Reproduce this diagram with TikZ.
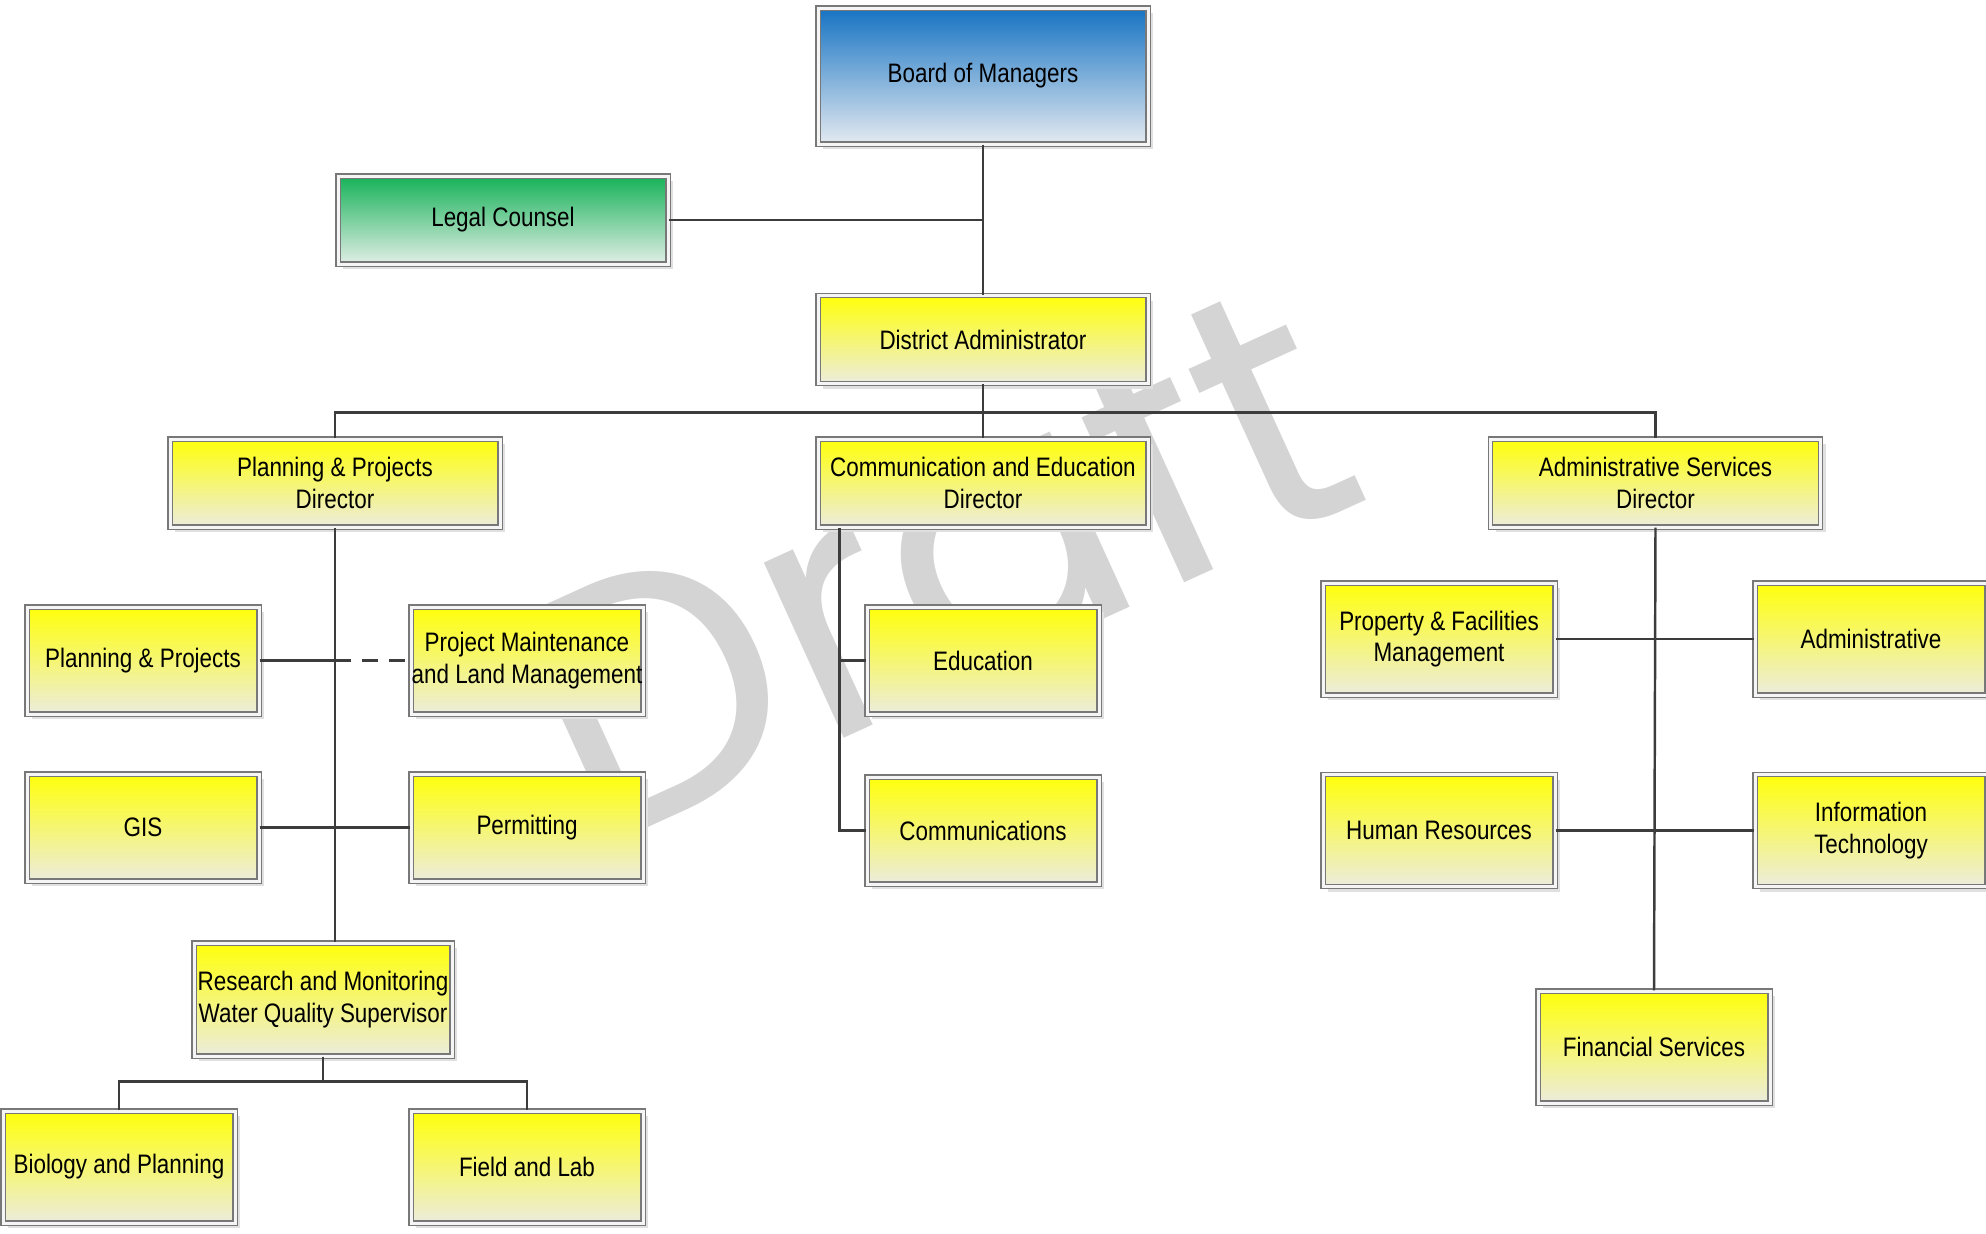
\documentclass[tikz,border=0pt]{standalone}
\usepackage{fontspec}
\setmainfont{Liberation Sans}[FakeStretch=0.84]
\newfontfamily\draftfont{Poppins}
\usetikzlibrary{shadows}

\definecolor{linegray}{RGB}{60,60,60}
\definecolor{boxedge}{RGB}{120,120,120}
\definecolor{ytop}{RGB}{255,255,10}
\definecolor{ymid}{RGB}{245,245,125}
\definecolor{ybot}{RGB}{236,236,222}
\definecolor{btop}{RGB}{22,115,195}
\definecolor{bmid}{RGB}{105,165,215}
\definecolor{bbot}{RGB}{228,234,240}
\definecolor{gtop}{RGB}{22,178,88}
\definecolor{gmid}{RGB}{110,200,145}
\definecolor{gbot}{RGB}{225,238,230}

\tikzset{
  unit/.style={rectangle, draw=boxedge, line width=0.35pt, double=black!4,
    double distance=0.3mm, inner sep=0pt, align=center,
    font=\fontsize{7.6}{9}\selectfont,
    top color=ytop, middle color=ymid, bottom color=ybot,
    drop shadow={shadow xshift=0.5mm, shadow yshift=-0.5mm, fill=black!12, opacity=1}},
  wide/.style={minimum width=33mm, minimum height=8.8mm},
  small/.style={minimum width=23.2mm, minimum height=10.7mm},
  tall/.style={minimum width=23.2mm, minimum height=11.2mm},
  board/.style={top color=btop, middle color=bmid, bottom color=bbot},
  legal/.style={top color=gtop, middle color=gmid, bottom color=gbot},
  link/.style={draw=linegray, line width=0.7pt},
  watermark/.style={text=black!17, font=\draftfont\fontsize{100}{100}\selectfont, rotate=24.5}
}

\begin{document}
\begin{tikzpicture}[x=0.1mm, y=-0.1mm, line cap=butt, line join=miter]
  \useasboundingbox (0,0) rectangle (1986,1233);

  % Watermark
  \node[watermark] (draft) at (930,553) {Draft};

  % Top of the chart
  \node[unit, board, minimum width=33mm, minimum height=13.6mm] (bom) at (983,76) {Board of Managers};
  \node[unit, legal, wide] (legal) at (503,220) {Legal Counsel};
  \node[unit, wide] (district) at (983,339.5) {District Administrator};

  % Directors
  \node[unit, wide] (ppd) at (335,483) {Planning \& Projects\\Director};
  \node[unit, wide] (ced) at (983,483) {Communication and Education\\Director};
  \node[unit, wide] (asd) at (1655.5,483) {Administrative Services\\Director};

  % Planning & Projects branch
  \node[unit, small] (pp) at (143,660.5) {Planning \& Projects};
  \node[unit, small] (pm) at (527,660.5) {Project Maintenance\\and Land Management};
  \node[unit, small] (gis) at (143,827.5) {GIS};
  \node[unit, small] (permit) at (527,827.5) {Permitting};
  \node[unit, minimum width=25.8mm, minimum height=11.3mm] (research) at (323,999.5) {Research and Monitoring\\Water Quality Supervisor};
  \node[unit, small, minimum height=11.2mm] (biology) at (119,1167) {Biology and Planning};
  \node[unit, small, minimum height=11.2mm] (fieldlab) at (527,1167) {Field and Lab};

  % Communication and Education branch
  \node[unit, small] (education) at (983,660.5) {Education};
  \node[unit, small] (comms) at (983,830.5) {Communications};

  % Administrative Services branch
  \node[unit, tall] (property) at (1439,639) {Property \& Facilities\\Management};
  \node[unit, tall] (admin) at (1871,639) {Administrative};
  \node[unit, tall] (hr) at (1439,830.5) {Human Resources};
  \node[unit, tall] (it) at (1871,830.5) {Information\\Technology};
  \node[unit, tall] (finance) at (1654,1047) {Financial Services};

  % Connectors
  \draw[link] (bom.south) -- (district.north);
  \draw[link] (legal.east) -- (legal.east -| bom.south);
  \draw[link] (district.south) -- (ced.north);
  \draw[link] (ppd.north) -- ++(0,-26) -| (asd.north);

  \draw[link] (ppd.south) -- (ppd.south |- research.north);
  \draw[link] (pp.east) -- (pp.east -| ppd.south);
  \draw[link, dash pattern=on 1.6mm off 1.1mm] (pp.east -| ppd.south) -- (pm.west);
  \draw[link] (gis.east) -- (permit.west);
  \draw[link] (research.south) -- ++(0,25) coordinate (rbus);
  \draw[link] (biology.north) |- (rbus) -| (fieldlab.north);

  \coordinate (cetrunk) at ([xshift=2.2mm]ced.south west);
  \draw[link] (cetrunk) |- (comms.west);
  \draw[link] (cetrunk |- education.west) -- (education.west);

  \draw[link] (asd.south) -- (finance.north);
  \draw[link] (property.east) -- (admin.west);
  \draw[link] (hr.east) -- (it.west);
\end{tikzpicture}
\end{document}
